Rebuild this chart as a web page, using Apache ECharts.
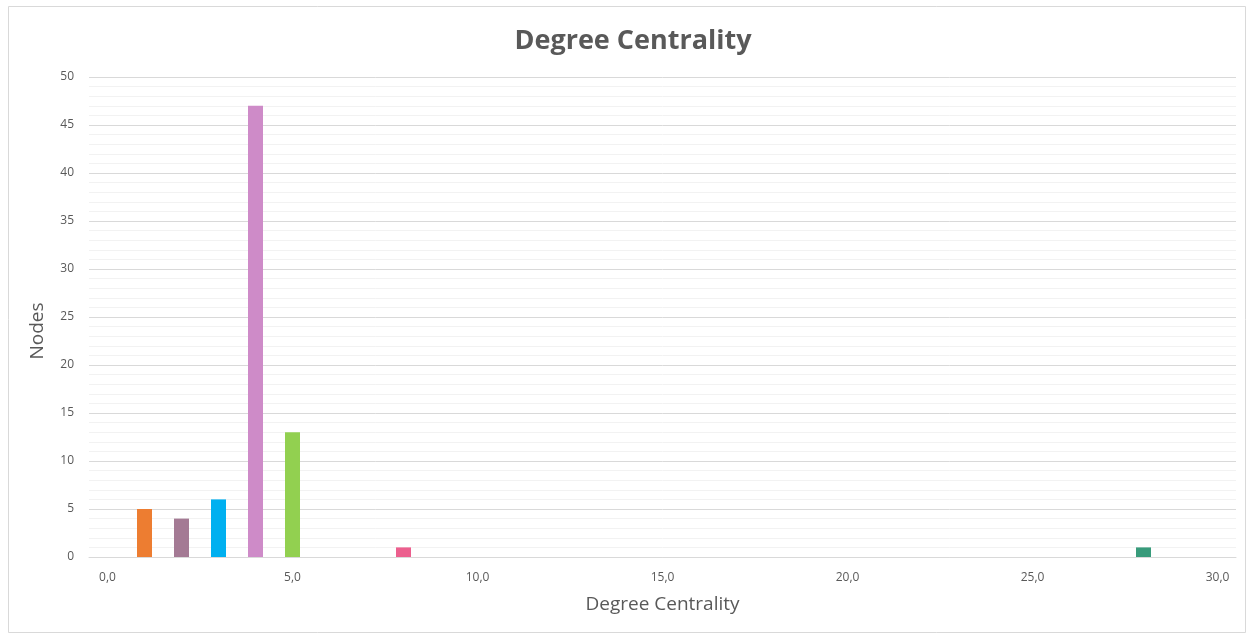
<!DOCTYPE html>
<html>
<head>
<meta charset="utf-8">
<script src="https://cdn.jsdelivr.net/npm/echarts@6/dist/echarts.min.js"></script>
<style>
  html, body { margin: 0; padding: 0; background: #ffffff; }
  #chart { width: 1252px; height: 635px; }
</style>
</head>
<body>
<div id="chart"></div>
<script>
// Degree values 0..30 form the category axis; only degrees with nodes are drawn.
const degreeTicks = Array.from({ length: 31 }, (_, i) => i);
const degrees = [1, 2, 3, 4, 5, 8, 28];
const nodeCounts = [5, 4, 6, 47, 13, 1, 1];
const barColors = ['#ED7D31', '#A47A94', '#00B0F0', '#CE8BC8', '#92D050', '#EC5F8E', '#389B7B'];

const fontFamily = '"Open Sans", "Noto Sans", sans-serif';
const textGrey = '#595959';

const chart = echarts.init(document.getElementById('chart'), null, { renderer: 'canvas' });

chart.setOption({
  animation: false,
  backgroundColor: '#ffffff',
  title: {
    text: 'Degree Centrality',
    left: 628,
    top: 23,
    textAlign: 'center',
    textStyle: { fontFamily, fontSize: 27, fontWeight: 'bold', color: textGrey }
  },
  graphic: [{
    type: 'rect',
    shape: { x: 8.5, y: 6.5, width: 1237, height: 626 },
    style: { fill: 'none', stroke: '#d9d9d9', lineWidth: 1 },
    silent: true
  }, {
    // vertical axis title, sitting a little below the plot's midline
    type: 'text',
    x: 38,
    y: 331,
    rotation: Math.PI / 2,
    style: {
      text: 'Nodes',
      fontFamily, fontSize: 19, fill: textGrey,
      align: 'center', verticalAlign: 'middle'
    },
    silent: true
  }],
  grid: { left: 89, right: 16, top: 77, bottom: 78, containLabel: false },
  xAxis: {
    type: 'category',
    data: degreeTicks.map(String),
    boundaryGap: true,
    name: 'Degree Centrality',
    nameLocation: 'middle',
    nameGap: 38,
    nameTextStyle: { fontFamily, fontSize: 19, color: textGrey },
    axisLine: { lineStyle: { color: '#d9d9d9' } },
    axisTick: { show: false },
    axisLabel: {
      interval: (idx) => idx % 5 === 0,
      formatter: (v) => Number(v).toFixed(1).replace('.', ','),
      fontFamily, fontSize: 12, color: textGrey, margin: 15
    },
    splitLine: { show: false }
  },
  yAxis: {
    type: 'value',
    min: 0,
    max: 50,
    interval: 5,
    axisLine: { show: false },
    axisTick: { show: false },
    axisLabel: { fontFamily, fontSize: 12, color: textGrey, margin: 15 },
    splitLine: { lineStyle: { color: '#d9d9d9', width: 1 } },
    minorTick: { show: false, splitNumber: 5 },
    minorSplitLine: { show: true, lineStyle: { color: '#f2f2f2', width: 1 } }
  },
  series: [{
    type: 'bar',
    barWidth: 15,
    data: degrees.map((d, i) => ({
      value: [String(d), nodeCounts[i]],
      itemStyle: { color: barColors[i] }
    }))
  }]
});
</script>
</body>
</html>
